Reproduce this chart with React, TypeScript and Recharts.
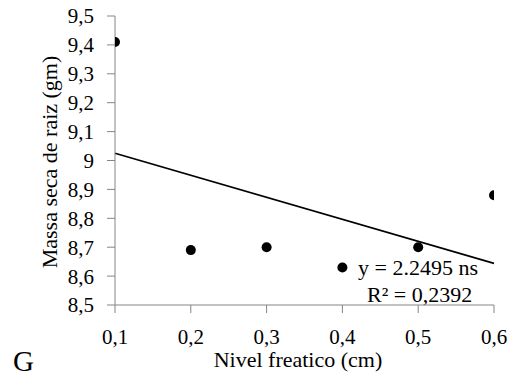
import React from "react";
import {
  ScatterChart,
  Scatter,
  XAxis,
  YAxis,
  ReferenceLine,
  Customized,
} from "recharts";

const nivel = [0.1, 0.2, 0.3, 0.4, 0.5, 0.6];
const massa = [9.41, 8.69, 8.7, 8.63, 8.7, 8.88];
const trendX = [0.1, 0.6];
const trendY = [9.025, 8.644];
const xTicks = [0.1, 0.2, 0.3, 0.4, 0.5, 0.6];
const yTicks = [8.5, 8.6, 8.7, 8.8, 8.9, 9, 9.1, 9.2, 9.3, 9.4, 9.5];
const xTitle = "Nivel freatico (cm)";
const yTitle = "Massa seca de raiz (gm)";
const eqText = "y = 2.2495 ns";
const r2Text = "R² = 0,2392";
const panelLetter = "G";

const points = nivel.map((x, i) => ({ x, y: massa[i] }));
const segment = trendX.map((x, i) => ({ x, y: trendY[i] }));

const FONT = "Liberation Serif";
const AXIS_COLOR = "#858585";

const fmtX = (v: number) => v.toFixed(1).replace(".", ",");
const fmtY = (v: number) =>
  Math.abs(v - 9) < 1e-9 ? "9" : v.toFixed(1).replace(".", ",");

const Dot = (props: any) => (
  <circle cx={props.cx} cy={props.cy} r={5} fill="#000" />
);

const Texts = () => (
  <g>
    <text
      x={57}
      y={162}
      fontSize={22}
      fontFamily={FONT}
      fill="#000"
      textAnchor="middle"
      transform="rotate(-90, 57, 162)"
    >
      {yTitle}
    </text>
    <text x={298} y={367} fontSize={22} fontFamily={FONT} fill="#000" textAnchor="middle">
      {xTitle}
    </text>
    <text x={13} y={371} fontSize={29} fontFamily={FONT} fill="#000">
      {panelLetter}
    </text>
    <text x={358} y={275} fontSize={22} fontFamily={FONT} fill="#000">
      {eqText}
    </text>
    <text x={367} y={302} fontSize={22} fontFamily={FONT} fill="#000">
      {r2Text}
    </text>
  </g>
);

export default function App() {
  return (
    <div style={{ position: "absolute", left: 0, top: 0, background: "#fff" }}>
      <ScatterChart
        width={511}
        height={378}
        margin={{ top: 16, right: 17, bottom: 0, left: 0 }}
      >
        <XAxis
          type="number"
          dataKey="x"
          domain={[0.1, 0.6]}
          ticks={xTicks}
          tickFormatter={fmtX}
          height={73}
          tickSize={8}
          tickMargin={16}
          stroke={AXIS_COLOR}
          tick={{ fill: "#000", fontSize: 21, fontFamily: FONT }}
          allowDataOverflow
        />
        <YAxis
          type="number"
          dataKey="y"
          domain={[8.5, 9.5]}
          ticks={yTicks}
          tickFormatter={fmtY}
          width={115}
          tickSize={8}
          tickMargin={13}
          stroke={AXIS_COLOR}
          tick={{ fill: "#000", fontSize: 21, fontFamily: FONT }}
          interval={0}
          allowDataOverflow
        />
        <ReferenceLine
          segment={segment}
          stroke="#000"
          strokeWidth={1.6}
          ifOverflow="visible"
        />
        <Scatter data={points} shape={Dot} isAnimationActive={false} />
        <Customized component={Texts} />
      </ScatterChart>
    </div>
  );
}
